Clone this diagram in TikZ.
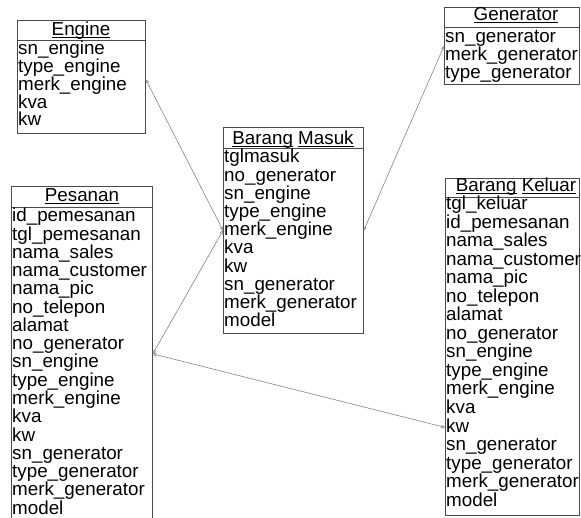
\documentclass[tikz,border=0pt]{standalone}
\usepackage{fontspec}
\setmainfont{Liberation Sans}
\usetikzlibrary{arrows.meta}
\definecolor{boxline}{HTML}{4A4A4A}
\definecolor{linkline}{HTML}{858585}
% text size of entity rows and titles
\newcommand\rowfont{\fontsize{18.8pt}{18.3pt}\selectfont}
% underline at a fixed depth below the baseline (descenders cross it)
\newcommand\ttlul[1]{\setbox0\hbox{#1}\rlap{\rule[-2.2pt]{\wd0}{0.8pt}}\box0\relax}
\begin{document}
\begin{tikzpicture}[x=1pt,y=-1pt,
  entity/.style={draw=boxline, line width=0.8pt, inner sep=0pt, anchor=north west},
  sep/.style={draw=boxline, line width=0.8pt},
  row/.style={anchor=base west, inner sep=0pt, font=\rowfont},
  ttl/.style={anchor=base, inner sep=0pt, font=\rowfont},
  link/.style={draw=linkline, line width=0.6pt,
    {Triangle[open,length=3.5pt,width=3.5pt]}-{Triangle[open,length=3.5pt,width=3.5pt]}}]
\clip (0,0) rectangle (581,518);

% ---------- Engine ----------
\node[entity, minimum width=128pt, minimum height=113pt] (eng) at (17,20) {};
\draw[sep] (17,40) -- (145,40);
\node[ttl] (eng-t) at (81,36) {\ttlul{Engine}};
\foreach \t [count=\i from 0] in {sn\_engine, type\_engine, merk\_engine, kva, kw}
  \node[row] (eng-\i) at (18,55+17.75*\i) {\t};

% ---------- Generator ----------
\node[entity, minimum width=135pt, minimum height=77pt] (gen) at (444,7) {};
\draw[sep] (444,27) -- (579,27);
\node[ttl] (gen-t) at (516,21) {\ttlul{Generator}};
\foreach \t [count=\i from 0] in {sn\_generator, merk\_generator, type\_generator}
  \node[row] (gen-\i) at (445,43+18*\i) {\t};

% ---------- Barang Masuk ----------
\node[entity, minimum width=140pt, minimum height=206pt] (bm) at (223,127) {};
\draw[sep] (223,148) -- (363,148);
\node[ttl] (bm-t) at (293,145) {\ttlul{Barang} \ttlul{Masuk}};
\foreach \t [count=\i from 0] in {tglmasuk, no\_generator, sn\_engine, type\_engine,
    merk\_engine, kva, kw, sn\_generator, merk\_generator, model}
  \node[row] (bm-\i) at (224,163+18.2*\i) {\t};

% ---------- Pesanan ----------
\node[entity, minimum width=141pt, minimum height=335pt] (pes) at (11,186) {};
\draw[sep] (11,207) -- (152,207);
\node[ttl] (pes-t) at (82,202) {\ttlul{Pesanan}};
\foreach \t [count=\i from 0] in {id\_pemesanan, tgl\_pemesanan, nama\_sales,
    nama\_customer, nama\_pic, no\_telepon, alamat, no\_generator, sn\_engine,
    type\_engine, merk\_engine, kva, kw, sn\_generator, type\_generator,
    merk\_generator, model}
  \node[row] (pes-\i) at (12,222+18.25*\i) {\t};

% ---------- Barang Keluar ----------
\node[entity, minimum width=134pt, minimum height=337pt] (bk) at (445,178) {};
\draw[sep] (445,197) -- (579,197);
\node[ttl] (bk-t) at (516,192) {\ttlul{Barang} \ttlul{Keluar}};
\foreach \t [count=\i from 0] in {tgl\_keluar, id\_pemesanan, nama\_sales,
    nama\_customer, nama\_pic, no\_telepon, alamat, no\_generator, sn\_engine,
    type\_engine, merk\_engine, kva, kw, sn\_generator, type\_generator,
    merk\_generator, model}
  \node[row] (bk-\i) at (446,210+18.5*\i) {\t};

% ---------- relations ----------
\draw[link] (bm.west) -- ([yshift=-2.5pt]eng.east);
\draw[link] (pes.east) -- (bm.west);
\draw[link] (bm.east) -- (gen.west);
\draw[link] (pes.east) -- ([yshift=-80.5pt]bk.west);
\end{tikzpicture}
\end{document}
